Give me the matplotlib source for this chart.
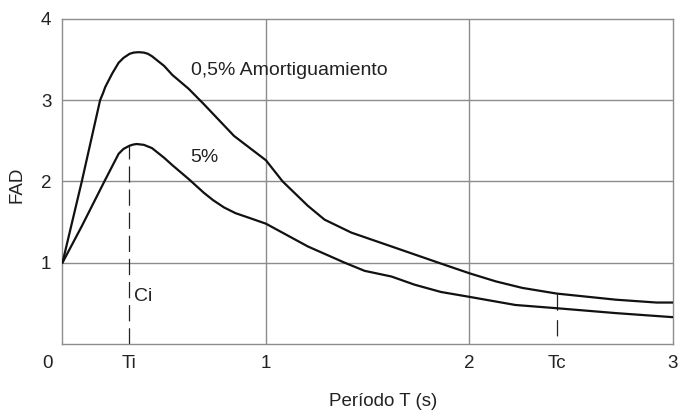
import matplotlib
matplotlib.use("Agg")
import matplotlib.pyplot as plt
from matplotlib.transforms import ScaledTranslation

plt.rcParams['font.family'] = ['Liberation Sans', 'DejaVu Sans']

# Data
t_05 = [0.0, 0.095, 0.185, 0.20, 0.21, 0.245, 0.276, 0.30, 0.33, 0.35, 0.374, 0.40, 0.42,
        0.44, 0.47, 0.50, 0.54, 0.62, 0.695, 0.843, 1.0, 1.082, 1.206, 1.288, 1.42,
        1.617, 1.848, 2.0, 2.13, 2.26, 2.43, 2.72, 2.92, 3.0]
fad_05 = [1.0, 2.0, 3.0, 3.09, 3.16, 3.33, 3.46, 3.52, 3.57, 3.585, 3.59, 3.585, 3.57,
          3.54, 3.48, 3.42, 3.31, 3.14, 2.95, 2.56, 2.26, 2.0, 1.70, 1.53, 1.37,
          1.20, 1.0, 0.87, 0.77, 0.69, 0.62, 0.545, 0.51, 0.51]

t_5 = [0.0, 0.095, 0.206, 0.276, 0.30, 0.33, 0.35, 0.366, 0.40, 0.42, 0.44, 0.47, 0.50,
       0.54, 0.62, 0.695, 0.74, 0.794, 0.85, 0.92, 1.0, 1.206, 1.387, 1.485, 1.617,
       1.73, 1.86, 2.0, 2.226, 2.43, 2.72, 3.0]
fad_5 = [1.0, 1.45, 2.0, 2.34, 2.40, 2.44, 2.455, 2.46, 2.45, 2.43, 2.41, 2.35, 2.29,
         2.2, 2.03, 1.86, 1.77, 1.68, 1.61, 1.55, 1.48, 1.20, 1.0, 0.90, 0.83,
         0.73, 0.64, 0.58, 0.48, 0.44, 0.38, 0.33]

Ti = 0.325
Tc = 2.43
ti_top = 2.45
tc_top = 0.62

xtick_pos = [0, Ti, 1, 2, Tc, 3]
xtick_labels = ['0', 'Ti', '1', '2', 'Tc', '3']
ytick_pos = [1, 2, 3, 4]
ytick_labels = ['1', '2', '3', '4']

fig = plt.figure(figsize=(6.79, 4.19), dpi=100)
ax = fig.add_axes([0.092, 0.179, 0.899, 0.776])

grid_c = '#8c8c8c'
for gx in [1, 2]:
    ax.axvline(gx, color=grid_c, lw=1.0, zorder=1)
for gy in [1, 2, 3]:
    ax.axhline(gy, color=grid_c, lw=1.0, zorder=1)

ax.plot(t_05, fad_05, color='#111111', lw=1.6, zorder=3,
        solid_joinstyle='round', solid_capstyle='round')
ax.plot(t_5, fad_5, color='#111111', lw=1.6, zorder=3,
        solid_joinstyle='round', solid_capstyle='round')

ax.plot([Ti, Ti], [0, ti_top], color='#222222', lw=0.9, dashes=(13, 5.5), zorder=2)
ax.plot([Tc, Tc], [tc_top, 0], color='#222222', lw=0.9, dashes=(13, 7.5), zorder=2)

ax.set_xlim(0, 3)
ax.set_ylim(0, 4)
ax.set_xticks(xtick_pos)
ax.set_xticklabels(xtick_labels)
ax.set_yticks(ytick_pos)
ax.set_yticklabels(ytick_labels)
ax.tick_params(length=0, labelsize=13.5, pad=8, colors='#222222')
for s in ax.spines.values():
    s.set_color(grid_c)
    s.set_linewidth(1.0)

# shift the "0" label left, as in the reference (shared origin label)
zero_lbl = ax.get_xticklabels()[0]
zero_lbl.set_transform(zero_lbl.get_transform() + ScaledTranslation(-0.15, 0, fig.dpi_scale_trans))

ax.text(0.63, 3.37, '0,5% Amortiguamiento', fontsize=14, va='center', ha='left', color='#222222')
ax.text(0.63, 2.29, '5%', fontsize=14, va='center', ha='left', color='#222222')
ax.text(0.35, 0.59, 'Ci', fontsize=14, va='center', ha='left', color='#222222')

fig.text(17/679, 1 - 185/419, 'FAD', rotation=90, ha='center', va='center', fontsize=13.5, color='#222222')
fig.text(383/679, 1 - 401/419, 'Período T (s)', ha='center', va='center', fontsize=13.5, color='#222222')

fig.savefig('out.png', dpi=100)
